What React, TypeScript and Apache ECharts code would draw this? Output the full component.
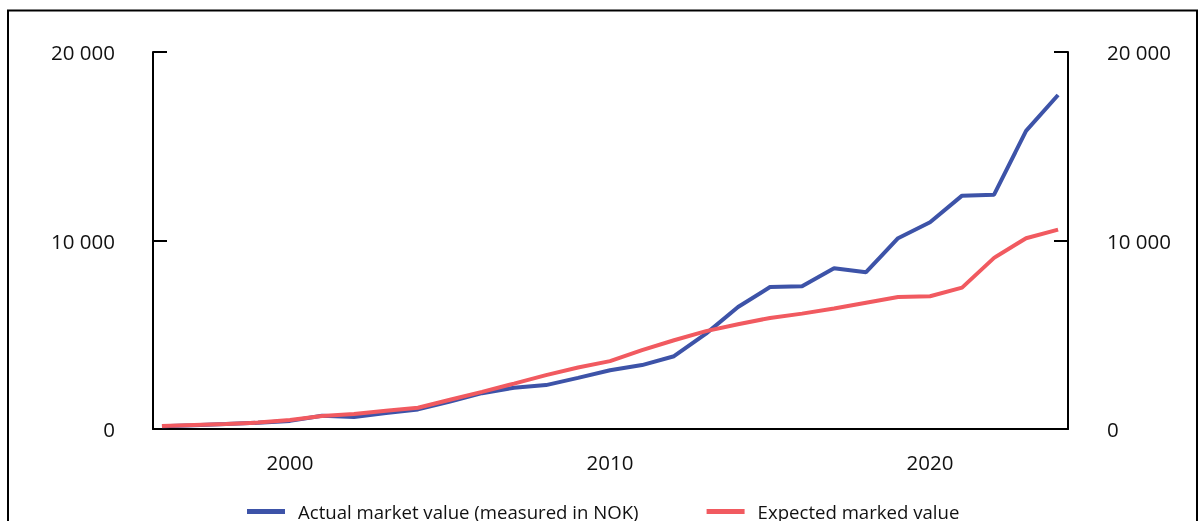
import React, { useEffect, useRef } from "react";
import * as echarts from "echarts";

const years = [1996, 1997, 1998, 1999, 2000, 2001, 2002, 2003, 2004, 2005, 2006, 2007, 2008, 2009, 2010, 2011, 2012, 2013, 2014, 2015, 2016, 2017, 2018, 2019, 2020, 2021, 2022, 2023, 2024];
const actualValues = [150, 200, 260, 330, 430, 700, 640, 850, 1040, 1450, 1900, 2190, 2330, 2710, 3120, 3390, 3860, 5060, 6470, 7530, 7570, 8530, 8320, 10120, 10970, 12380, 12430, 15820, 17720];
const expectedValues = [160, 210, 260, 340, 480, 690, 790, 970, 1130, 1550, 1970, 2410, 2860, 3260, 3600, 4180, 4710, 5190, 5560, 5890, 6120, 6390, 6700, 7000, 7040, 7500, 9080, 10120, 10580];
const xTickLabels = [2000, 2010, 2020];
const seriesNames = ["Actual market value (measured in NOK)", "Expected marked value"];

const FONT = "'Open Sans', 'Noto Sans', sans-serif";

function fmt(v: number) {
  return String(v).replace(/\B(?=(\d{3})+(?!\d))/g, " ");
}

export default function App() {
  const ref = useRef<HTMLDivElement>(null);
  useEffect(() => {
    if (!ref.current) return;
    const chart = echarts.init(ref.current, null, { renderer: "svg" });
    const yAxisCommon = {
      type: "value" as const,
      min: 0,
      max: 20000,
      interval: 10000,
      splitLine: { show: false },
      axisLine: { show: true, lineStyle: { color: "#000", width: 2 } },
      axisTick: { show: true, inside: true, length: 14, lineStyle: { color: "#000", width: 2 } },
    };
    chart.setOption({
      animation: false,
      textStyle: { fontFamily: FONT },
      grid: { left: 153, right: 132, top: 52, bottom: 92, containLabel: false },
      graphic: [
        {
          type: "rect",
          shape: { x: 8, y: 10.5, width: 1189, height: 620 },
          style: { fill: "none", stroke: "#000", lineWidth: 2 },
          silent: true,
        },
      ],
      legend: {
        show: true,
        top: 502,
        left: 247,
        padding: 0,
        icon: "rect",
        itemWidth: 38,
        itemHeight: 5,
        itemGap: 68,
        textStyle: { fontFamily: FONT, fontSize: 18.6, color: "#111", padding: [0, 0, 0, 8] },
        data: seriesNames,
      },
      xAxis: {
        type: "value",
        min: 1995.72,
        max: 2024.31,
        splitLine: { show: false },
        axisLine: { show: true, lineStyle: { color: "#000", width: 2 } },
        axisTick: { show: false },
        axisLabel: {
          customValues: xTickLabels,
          formatter: (v: number) => String(v),
          fontFamily: FONT,
          fontSize: 20.5,
          color: "#111",
          margin: 22,
        },
      },
      yAxis: [
        {
          ...yAxisCommon,
          position: "left",
          axisLabel: { formatter: fmt, fontFamily: FONT, fontSize: 20.5, color: "#111", margin: 38 },
        },
        {
          ...yAxisCommon,
          position: "right",
          axisLabel: { formatter: fmt, fontFamily: FONT, fontSize: 20.5, color: "#111", margin: 39 },
        },
      ],
      series: [
        {
          name: seriesNames[0],
          type: "line",
          data: years.map((y, i) => [y, actualValues[i]]),
          showSymbol: false,
          lineStyle: { color: "#3d53a8", width: 4 },
          itemStyle: { color: "#3d53a8" },
          z: 2,
        },
        {
          name: seriesNames[1],
          type: "line",
          data: years.map((y, i) => [y, expectedValues[i]]),
          showSymbol: false,
          lineStyle: { color: "#f15a60", width: 4 },
          itemStyle: { color: "#f15a60" },
          z: 3,
        },
      ],
    });
    return () => chart.dispose();
  }, []);
  return <div ref={ref} style={{ position: "fixed", left: 0, top: 0, width: 1200, height: 521 }} />;
}
